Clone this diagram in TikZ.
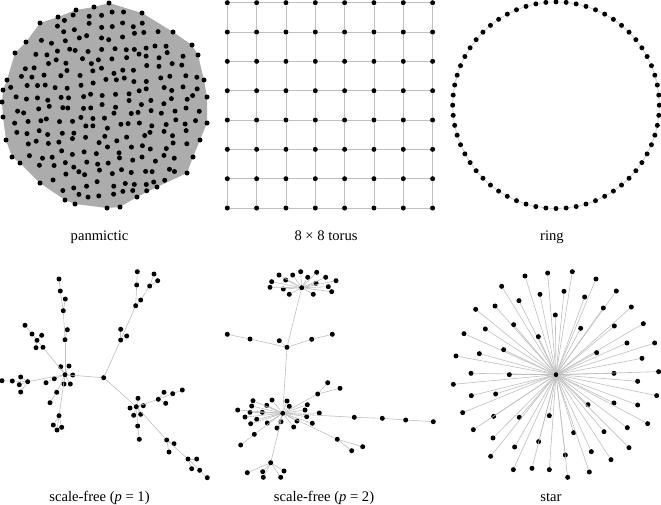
\documentclass[tikz,border=0pt]{standalone}
\usepackage{fontspec}
\setmainfont{Liberation Serif}
\usetikzlibrary{calc}

\begin{document}
\begin{tikzpicture}[x=1pt,y=-1pt,line width=0.6pt,font=\fontsize{14.6pt}{16pt}\selectfont,
  vtx/.style={fill,circle,inner sep=0pt,minimum size=5pt},
  link/.style={draw=gray!50,line width=0.6pt},
  hullfill/.style={fill=gray!65},
  caption/.style={anchor=base}]

\useasboundingbox (0,0) rectangle (661,504);

\begin{scope}
  \foreach \x/\y [count=\k] in {109/3,142/13,173/32,192/45,198/55,204/80,207/97,207/123,200/140,193/157,187/173,157/187,137/197,120/207,107/208,75/204,65/200,40/183,20/163,12/157,6/140,3/117,2/102,3/90,7/80,15/53,26/42,40/23,58/17,76/10,94/7}
    \coordinate (h\k) at (\x,\y);
  \fill[hullfill] (h1) \foreach \k in {2,...,31} { -- (h\k) } -- cycle;
  \foreach \k in {1,...,31} \node[vtx] (hv\k) at (h\k) {};
  \pgfmathsetseed{12}
  \foreach \i in {-9,...,9} {
    \foreach \j in {-9,...,9} {
      \pgfmathsetmacro\px{\i*11.3+\j*0.8+3.5*rand}
      \pgfmathsetmacro\py{\j*11.3-\i*0.8+3.5*rand}
      \pgfmathtruncatemacro\inside{veclen(\px,\py)<96}
      \ifnum\inside=1
        \node[vtx] (p\i\j) at ({105+\px},{105+\py}) {};
      \fi
    }
  }
\end{scope}

\begin{scope}
  \foreach \i in {0,...,7}
    \foreach \j in {0,...,7}
      \node[vtx] (t\i\j) at ({227.3+29.33*\i},{2.7+29.33*\j}) {};
  \foreach \i [evaluate=\i as \n using int(\i+1)] in {0,...,6}
    \foreach \j in {0,...,7} {
      \draw[link] (t\i\j) -- (t\n\j);
      \draw[link] (t\j\i) -- (t\j\n);
    }
\end{scope}

\begin{scope}
  \coordinate (rc) at (556,105.2);
  \foreach \k in {0,...,63}
    \node[vtx] (r\k) at ($(rc)+(\k*5.625-90:103.3)$) {};
  \foreach \k [evaluate=\k as \n using {int(mod(\k+1,64))}] in {0,...,63}
    \draw[link] (r\k) -- (r\n);
\end{scope}

\begin{scope}
  \foreach \n/\x/\y in {ac/103.7/377.7, aL/65/374.7, aR/136.3/406.7,
    au1/65/339.7, au2/67.3/329.7, au3/63.3/310.7, au4/65.3/299, au5/60.3/291, au6/59/279,
    aw1/43/347.3, aw2/37/340.3, aw3/32/334, aw4/25/325.3, aw5/41.7/335.3, aw6/36/347.7,
    an1/60.7/366.7, an2/69/366, an3/72.7/375, an4/64/384, an5/70.3/384,
    ak1/54.3/378.7, ak2/46/382.7,
    af1/27.7/381.7, af2/12.3/381, af3/2/380.7, af4/20.7/377, af5/19.3/384.7, af6/20.7/392,
    ad1/56.7/392.3, ad2/50/402.7, ad3/59/415.7, ad4/53.3/425, ad5/57/430, ad6/61.7/427.3,
    ae1/120.7/340, ae2/120.7/329.3, ae3/126.7/336, ae4/135.7/305.7, ae5/136.7/285,
    ae6/137.3/271.7, ae7/140.7/300, ae8/149.7/286, ae9/154/274, ae10/157.7/280.7,
    ar1/138/398.3, ar2/143.3/405.7, ar3/130/408, ar4/133.7/415.3, ar5/140.7/414.3, ar6/137.7/426, ar7/139.3/439.3,
    ag1/158.3/399.3, ag2/164/392.3, ag3/165.7/403.3, ag4/172.7/393.7, ag5/182.3/390,
    as1/166.7/440, as2/174/443.7, as3/169/452, as4/188/459, as5/196.7/459, as6/191.7/468.7, as7/199.7/470.3, as8/207.3/477.7}
    \node[vtx] (\n) at (\x,\y) {};
  \foreach \u/\v in {ac/aL, ac/aR, ac/ae1,
    aL/au1, au1/au2, au1/au3, au3/au4, au3/au5, au5/au6,
    aL/aw1, aw1/aw2, aw2/aw3, aw3/aw4, aw2/aw5, aw2/aw6,
    aL/an1, aL/an2, aL/an3, aL/an4, aL/an5, aL/ak1, ak1/ak2,
    aL/af1, af1/af2, af2/af3, af1/af4, af1/af5, af1/af6,
    aL/ad1, ad1/ad2, aL/ad3, ad3/ad4, ad3/ad5, ad3/ad6,
    ae1/ae2, ae1/ae3, ae1/ae4, ae4/ae5, ae5/ae6, ae4/ae7, ae7/ae8, ae8/ae9, ae8/ae10,
    aR/ar1, aR/ar2, aR/ar3, aR/ar4, aR/ar5, aR/ar6, ar6/ar7,
    aR/ag1, ag1/ag2, ag1/ag3, ag1/ag4, ag4/ag5,
    aR/as1, as1/as2, as1/as3, as1/as4, as4/as5, as4/as6, as4/as7, as7/as8}
    \draw[link] (\u) -- (\v);
\end{scope}

\begin{scope}
  \foreach \n/\x/\y in {bT/301.7/287.7,
    bt1/279/275, bt2/292.7/275, bt3/300.7/271.7, bt4/307.7/277.3, bt5/316.7/272.3, bt6/325.7/277.3,
    bt7/336/280.7, bt8/271.7/281.7, bt9/285.7/280, bt10/316/283.3, bt11/328.3/286.7, bt12/270/287.3,
    bt13/283.3/289, bt14/331.7/291.7, bt15/289.3/294.3, bt16/313.3/294.3,
    bM/287/347.3, bm1/311.7/339.3, bm2/332.3/334.3, bm3/279.3/340.7, bm4/250/339, bm5/227.3/334.3,
    bB/282.7/413.3,
    bb1/253/400.7, bb2/272/400, bb3/287/401, bb4/251.7/406, bb5/266.7/405.3, bb6/289.3/406.3,
    bb7/307.3/404.7, bb8/237.7/410, bb9/250/412.3, bb10/262.3/412.3, bb11/305/410, bb12/319.3/413,
    bb13/245/417, bb14/256.7/419.3, bb15/306.7/416.7, bb16/250.7/423.7, bb17/267.3/423, bb18/281/421.7,
    bb19/297/421, bb20/312.3/423.3, bb21/277/428, bb22/293.7/427,
    bq1/317.7/394, bq2/327.7/382.7, bq3/340/388.3,
    bx1/354.3/417.3, bx2/382.3/418.3, bx3/405.7/420, bx4/433.3/421.7,
    by1/337.3/439.3, by2/351.7/450.7, by3/362.7/446.7,
    bz1/254.3/434.3, bz2/240.7/445,
    bV/270.7/462.7, bv1/247.3/472.7, bv2/262.7/471.7, bv3/284/471, bv4/263.3/477.3, bv5/280.7/477.3}
    \node[vtx] (\n) at (\x,\y) {};
  \foreach \k in {1,...,16} \draw[link] (bT) -- (bt\k);
  \foreach \k in {1,...,22} \draw[link] (bB) -- (bb\k);
  \foreach \k in {1,...,5} \draw[link] (bV) -- (bv\k);
  \foreach \u/\v in {bT/bM, bM/bm1, bm1/bm2, bM/bm3, bM/bm4, bm4/bm5, bM/bB,
    bB/bq1, bq1/bq2, bq1/bq3, bB/bx1, bx1/bx2, bx2/bx3, bx3/bx4,
    bB/by1, by1/by2, by1/by3, bB/bz1, bz1/bz2, bB/bV}
    \draw[link] (\u) -- (\v);
\end{scope}

\begin{scope}[xshift=440pt,yshift=-240pt,x=0.3333pt,y=-0.3333pt]
  \node[vtx] (sc) at (348,404) {};
  \foreach \x/\y [count=\k] in {255/108,323/99,397/95,468/117,185/139,300/163,372/154,434/171,529/153,
    237/182,165/198,490/204,574/201,107/208,346/225,221/254,136/267,422/265,523/258,610/251,
    72/281,295/290,191/329,561/309,470/338,644/309,118/341,48/348,606/355,93/400,208/404,
    522/400,656/395,593/424,40/433,167/462,94/467,650/467,444/494,522/489,593/495,68/518,
    238/532,328/527,161/529,623/551,100/569,401/578,492/575,562/563,159/594,296/605,224/621,
    567/623,454/635,376/645,152/649,513/659,220/689,276/685,328/689,448/696,383/712} {
    \node[vtx] (lf\k) at (\x,\y) {};
    \draw[link] (sc) -- (lf\k);
  }
\end{scope}

\node[caption] (cap1) at (99.5,240) {panmictic};
\node[caption] (cap2) at (326,240) {8 × 8 torus};
\node[caption] (cap3) at (552,240) {ring};
\node[caption] (cap4) at (99.5,501.5) {scale-free (\textit{p} = 1)};
\node[caption] (cap5) at (324,501.5) {scale-free (\textit{p} = 2)};
\node[caption] (cap6) at (551,501.5) {star};

\end{tikzpicture}
\end{document}
